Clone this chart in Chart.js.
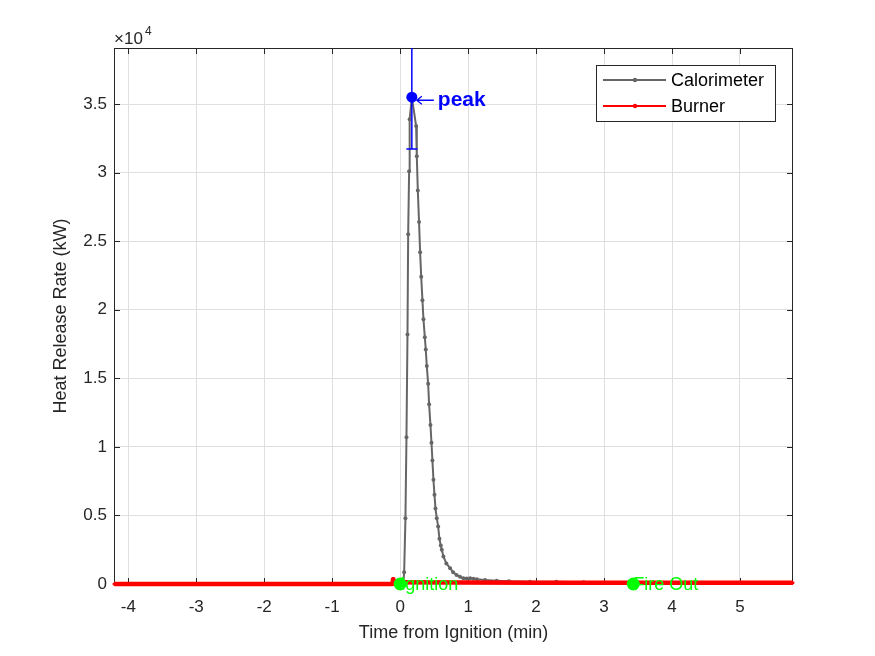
<!DOCTYPE html>
<html>
<head>
<meta charset="utf-8">
<script src="https://cdn.jsdelivr.net/npm/chart.js@4"></script>
<style>
  body { margin: 0; background: #fff; }
  canvas { display: block; }
</style>
</head>
<body>
<canvas id="hrrChart" width="875" height="656"></canvas>
<script>
// calorimeter heat release (kW) vs time from ignition (min)
const calTime = [0, 0.045, 0.059, 0.078, 0.093, 0.108, 0.118, 0.132, 0.14, 0.172,
  0.235, 0.245, 0.26, 0.278, 0.294, 0.31, 0.328, 0.343, 0.363, 0.377, 0.392, 0.412,
  0.426, 0.446, 0.461, 0.475, 0.49, 0.505, 0.52, 0.539, 0.559, 0.578, 0.598, 0.613,
  0.637, 0.68, 0.735, 0.78, 0.83, 0.88, 0.93, 0.98, 1.03, 1.08, 1.13, 1.25, 1.42,
  1.6, 1.91, 2.3, 2.7, 3.1, 3.4];
const calHrr = [0, 0, 850, 4800, 10700, 18200, 25500, 30100, 33900, 35500,
  33400, 31200, 28700, 26400, 24200, 22400, 20700, 19300, 18000, 17100, 15900, 14600,
  13100, 11600, 10300, 9000, 7600, 6500, 5500, 4800, 4200, 3300, 2800, 2500,
  2000, 1500, 1150, 850, 660, 520, 420, 400, 420, 380, 340, 290, 240,
  200, 170, 170, 120, 80, 50];

const burnerTime = [-4.21, -3, -2, -1, -0.11, -0.105, -0.1, -0.095, 0, 1, 2, 3, 4, 5, 5.78];
const burnerHrr = [0, 0, 0, 0, 0, 350, 350, 120, 120, 110, 100, 100, 100, 100, 100];

const peakTime = [0.172];
const peakHrr = [35500];
const peakErr = [3770];

const eventTime = [0, 3.43];
const eventHrr = [0, 0];
const eventLabels = ['Ignition', 'Fire Out'];

const legendOrder = ['Calorimeter', 'Burner'];
const xTicks = [-4, -3, -2, -1, 0, 1, 2, 3, 4, 5];
const yTicks = [0, 5000, 10000, 15000, 20000, 25000, 30000, 35000];

const toPts = (xs, ys) => xs.map((v, i) => ({x: v, y: ys[i]}));
const FONT = "'Liberation Sans', Arial, Helvetica, sans-serif";
const AXIS = '#262626';
const GRID = '#dfdfdf';

const decor = {
    id: 'decor',
    beforeDatasetsDraw(chart) {
        const {ctx, chartArea: a, scales: {x, y}} = chart;
        ctx.save();
        // box and inward ticks, under the data
        ctx.strokeStyle = AXIS;
        ctx.lineWidth = 1;
        ctx.strokeRect(a.left + 0.5, a.top + 0.5, a.right - a.left - 1, a.bottom - a.top - 1);
        ctx.beginPath();
        xTicks.forEach(v => {
            const px = Math.round(x.getPixelForValue(v)) + 0.5;
            ctx.moveTo(px, a.bottom); ctx.lineTo(px, a.bottom - 6);
            ctx.moveTo(px, a.top); ctx.lineTo(px, a.top + 6);
        });
        yTicks.forEach(v => {
            const py = Math.round(y.getPixelForValue(v)) + 0.5;
            ctx.moveTo(a.left, py); ctx.lineTo(a.left + 6, py);
            ctx.moveTo(a.right, py); ctx.lineTo(a.right - 6, py);
        });
        ctx.stroke();
        ctx.restore();
    },
    afterDatasetsDraw(chart) {
        const {ctx, chartArea: a, scales: {x, y}} = chart;
        // peak error bar, clipped to the axes box
        ctx.save();
        ctx.beginPath();
        ctx.rect(a.left, a.top, a.right - a.left, a.bottom - a.top);
        ctx.clip();
        ctx.strokeStyle = '#0000ff';
        ctx.lineWidth = 1.5;
        peakTime.forEach((t, i) => {
            const px = x.getPixelForValue(t);
            const lo = y.getPixelForValue(peakHrr[i] - peakErr[i]);
            const hi = y.getPixelForValue(peakHrr[i] + peakErr[i]);
            ctx.beginPath();
            ctx.moveTo(px, lo); ctx.lineTo(px, hi);
            ctx.moveTo(px - 5.5, lo); ctx.lineTo(px + 5.5, lo);
            ctx.moveTo(px - 5.5, hi); ctx.lineTo(px + 5.5, hi);
            ctx.stroke();
        });
        ctx.restore();

        ctx.save();
        // "<- peak" label
        peakTime.forEach((t, i) => {
            const px = x.getPixelForValue(t);
            const py = y.getPixelForValue(peakHrr[i]) + 3;
            ctx.strokeStyle = '#0000ff';
            ctx.lineWidth = 1.3;
            ctx.beginPath();
            ctx.moveTo(px + 5, py); ctx.lineTo(px + 22, py);
            ctx.moveTo(px + 10, py - 4); ctx.lineTo(px + 5, py); ctx.lineTo(px + 10, py + 4);
            ctx.stroke();
            ctx.fillStyle = '#0000ff';
            ctx.font = 'bold 21px ' + FONT;
            ctx.textAlign = 'left';
            ctx.textBaseline = 'middle';
            ctx.fillText('peak', px + 26, py);
        });

        // event labels
        ctx.fillStyle = '#00ff00';
        ctx.font = '18px ' + FONT;
        ctx.textAlign = 'left';
        ctx.textBaseline = 'middle';
        eventTime.forEach((t, i) => {
            ctx.fillText(eventLabels[i], x.getPixelForValue(t), y.getPixelForValue(eventHrr[i]) + 1);
        });
        ctx.restore();
    },
    afterDraw(chart) {
        const {ctx, chartArea: a} = chart;
        ctx.save();
        // exponent
        ctx.fillStyle = AXIS;
        ctx.textAlign = 'left';
        ctx.textBaseline = 'alphabetic';
        ctx.font = '17px ' + FONT;
        ctx.fillText('\u00d710', a.left, a.top - 4);
        ctx.font = '12px ' + FONT;
        ctx.fillText('4', a.left + 31, a.top - 13);

        // legend
        const lx = 596.5, ly = 65.5, lw = 179, lh = 56;
        ctx.fillStyle = '#fff';
        ctx.fillRect(lx, ly, lw, lh);
        ctx.strokeStyle = AXIS;
        ctx.lineWidth = 1;
        ctx.strokeRect(lx, ly, lw, lh);
        legendOrder.forEach((name, i) => {
            const d = chart.data.datasets.find(ds => ds.label === name);
            const yy = 80 + i * 26;
            ctx.strokeStyle = d.borderColor;
            ctx.lineWidth = 2;
            ctx.beginPath();
            ctx.moveTo(603, yy); ctx.lineTo(666, yy);
            ctx.stroke();
            ctx.fillStyle = d.borderColor;
            ctx.beginPath();
            ctx.arc(635, yy, 2.2, 0, Math.PI * 2);
            ctx.fill();
            ctx.fillStyle = '#000';
            ctx.font = '18px ' + FONT;
            ctx.textBaseline = 'middle';
            ctx.fillText(d.label, 671, yy + 1);
        });
        ctx.restore();
    }
};

const data = {
    datasets: [
        {
            label: 'events',
            data: toPts(eventTime, eventHrr),
            showLine: false,
            pointRadius: 6.5,
            pointBackgroundColor: '#00ff00',
            pointBorderWidth: 0,
            clip: false,
            order: 0
        },
        {
            label: 'peak',
            data: toPts(peakTime, peakHrr),
            showLine: false,
            pointRadius: 5.5,
            pointBackgroundColor: '#0000ff',
            pointBorderWidth: 0,
            order: 1
        },
        {
            label: 'Burner',
            data: toPts(burnerTime, burnerHrr),
            showLine: true,
            borderColor: '#ff0000',
            borderWidth: 4.5,
            borderJoinStyle: 'round',
            pointRadius: 1.5,
            pointBackgroundColor: '#ff0000',
            pointBorderWidth: 0,
            clip: false,
            order: 2
        },
        {
            label: 'Calorimeter',
            data: toPts(calTime, calHrr),
            showLine: true,
            borderColor: '#666666',
            borderWidth: 2,
            borderJoinStyle: 'round',
            pointRadius: 2,
            pointBackgroundColor: '#666666',
            pointBorderWidth: 0,
            clip: false,
            order: 3
        }
    ]
};

const config = {
    type: 'scatter',
    data: data,
    options: {
        responsive: false,
        animation: false,
        layout: { padding: { left: 50, right: 82, top: 48, bottom: 0 } },
        plugins: {
            legend: { display: false },
            tooltip: { enabled: false }
        },
        scales: {
            x: {
                type: 'linear',
                min: -4.21,
                max: 5.78,
                afterBuildTicks: axis => { axis.ticks = xTicks.map(v => ({value: v})); },
                afterFit: axis => { axis.height = 72; },
                grid: { color: GRID, drawTicks: false },
                border: { display: false },
                ticks: {
                    color: AXIS,
                    padding: 13,
                    font: { family: FONT, size: 17 },
                    callback: v => String(v)
                },
                title: {
                    display: true,
                    text: 'Time from Ignition (min)',
                    color: AXIS,
                    font: { family: FONT, size: 18 },
                    padding: { top: 0, bottom: 12 }
                }
            },
            y: {
                type: 'linear',
                min: 0,
                max: 39090,
                afterBuildTicks: axis => { axis.ticks = yTicks.map(v => ({value: v})); },
                afterFit: axis => { axis.width = 64; },
                grid: { color: GRID, drawTicks: false },
                border: { display: false },
                ticks: {
                    color: AXIS,
                    padding: 7,
                    font: { family: FONT, size: 17 },
                    callback: v => String(v / 10000)
                },
                title: {
                    display: true,
                    text: 'Heat Release Rate (kW)',
                    color: AXIS,
                    font: { family: FONT, size: 18 },
                    padding: { top: 0, bottom: 0 }
                }
            }
        }
    },
    plugins: [decor]
};

new Chart(document.getElementById('hrrChart'), config);
</script>
</body>
</html>
